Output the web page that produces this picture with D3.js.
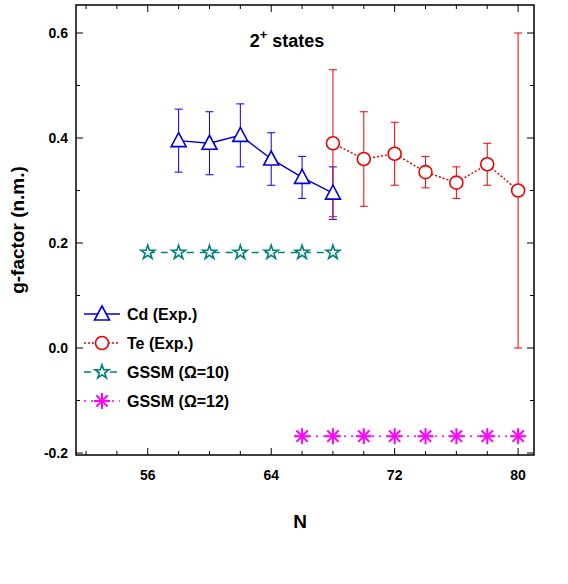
<!DOCTYPE html><html><head><meta charset="utf-8"><script src="https://d3js.org/d3.v7.min.js"></script>
<style>body{margin:0;background:#fff}text{font-family:Arial,"Liberation Sans",sans-serif;font-weight:bold}</style></head><body>
<svg id="c" width="568" height="584"></svg>
<script>
const cdN=[58,60,62,64,66,68], cdG=[0.395,0.39,0.405,0.36,0.325,0.295], cdE=[0.06,0.06,0.06,0.05,0.04,0.05];
const teN=[68,70,72,74,76,78,80], teG=[0.39,0.36,0.37,0.335,0.315,0.35,0.30], teE=[0.14,0.09,0.06,0.03,0.03,0.04,0.30];
const g10N=[56,58,60,62,64,66,68], g10G=[0.182,0.182,0.182,0.182,0.182,0.182,0.182];
const g12N=[66,68,70,72,74,76,78,80], g12G=[-0.168,-0.168,-0.168,-0.168,-0.168,-0.168,-0.168,-0.168];
const xTicks=[56,64,72,80], yTicks=[-0.2,0,0.2,0.4,0.6];
const svg=d3.select("#c");
const L=76,R=534,T=5,B=455;
const x=d3.scaleLinear().domain([51.35,81.03]).range([L,R]);
const y=d3.scaleLinear().domain([-0.2,0.6]).range([453,33]);
const ax=svg.append("g");
ax.append("rect").attr("x",L).attr("y",T).attr("width",R-L).attr("height",B-T).attr("fill","none").attr("stroke","#000").attr("stroke-width",1.5);
d3.range(52,82,2).forEach(v=>{const maj=xTicks.includes(v);const l=maj?7:4;
 ax.append("line").attr("x1",x(v)).attr("x2",x(v)).attr("y1",B).attr("y2",B-l).attr("stroke","#000");
 ax.append("line").attr("x1",x(v)).attr("x2",x(v)).attr("y1",T).attr("y2",T+l).attr("stroke","#000");
 if(maj)ax.append("text").attr("x",x(v)).attr("y",B+25).attr("text-anchor","middle").attr("font-size",14).text(v);});
d3.range(-0.2,0.65,0.1).forEach(v=>{v=+v.toFixed(1);const maj=yTicks.some(t=>Math.abs(t-v)<1e-6);const l=maj?7:4;
 ax.append("line").attr("x1",L).attr("x2",L+l).attr("y1",y(v)).attr("y2",y(v)).attr("stroke","#000");
 ax.append("line").attr("x1",R).attr("x2",R-l).attr("y1",y(v)).attr("y2",y(v)).attr("stroke","#000");
 if(maj)ax.append("text").attr("x",L-8).attr("y",y(v)+5).attr("text-anchor","end").attr("font-size",14).text(v.toFixed(1));});
svg.append("text").attr("x",300).attr("y",528).attr("text-anchor","middle").attr("font-size",19).text("N");
svg.append("text").attr("transform","translate(24,230) rotate(-90)").attr("text-anchor","middle").attr("font-size",19).text("g-factor (n.m.)");
const tt=svg.append("text").attr("x",287).attr("y",47).attr("text-anchor","middle").attr("font-size",18);
tt.append("tspan").text("2");tt.append("tspan").attr("dy",-8).attr("font-size",13).text("+");tt.append("tspan").attr("dy",8).text(" states");
function line(N,G,col,dash){svg.append("path").attr("d",d3.line().x((d,i)=>x(N[i])).y(d=>y(d))(G)).attr("fill","none").attr("stroke",col).attr("stroke-width",1.5).attr("stroke-dasharray",dash);}
function err(N,G,E,col){N.forEach((n,i)=>{const g=svg.append("g").attr("stroke",col).attr("stroke-width",1);
 g.append("line").attr("x1",x(n)).attr("x2",x(n)).attr("y1",y(G[i]-E[i])).attr("y2",y(G[i]+E[i]));
 [G[i]-E[i],G[i]+E[i]].forEach(v=>g.append("line").attr("x1",x(n)-4).attr("x2",x(n)+4).attr("y1",y(v)).attr("y2",y(v)));});}
function sym(type,cx,cy,col){const g=svg.append("g").attr("transform",`translate(${cx},${cy})`).attr("stroke",col).attr("stroke-width",1.6).attr("fill","#fff");
 if(type=="tri")g.append("path").attr("d","M0,-8L7.5,6L-7.5,6Z");
 if(type=="circ")g.append("circle").attr("r",6.5);
 if(type=="star")g.append("path").attr("d",d3.symbol(d3.symbolStar,60)());
 if(type=="ast")[0,45,90,135].forEach(a=>g.append("line").attr("x1",-8).attr("x2",8).attr("transform",`rotate(${a})`).attr("stroke-width",2));}
err(cdN,cdG,cdE,"#0000ee");err(teN,teG,teE,"#ee0000");
line(cdN,cdG,"#0000dd","");line(teN,teG,"#ee0000","2,2");line(g10N,g10G,"#008080","7,6");line(g12N,g12G,"#ff00ff","2,5");
cdN.forEach((n,i)=>sym("tri",x(n),y(cdG[i]),"#0000dd"));
teN.forEach((n,i)=>sym("circ",x(n),y(teG[i]),"#ee0000"));
g10N.forEach((n,i)=>sym("star",x(n),y(g10G[i]),"#008080"));
g12N.forEach((n,i)=>sym("ast",x(n),y(g12G[i]),"#ff00ff"));
const leg=[["Cd (Exp.)","tri","#0000dd",""],["Te (Exp.)","circ","#ee0000","2,2"],["GSSM (\u03A9=10)","star","#008080","7,6"],["GSSM (\u03A9=12)","ast","#ff00ff","2,5"]];
leg.forEach((d,i)=>{const yy=314+i*29;
 svg.append("line").attr("x1",84).attr("x2",120).attr("y1",yy).attr("y2",yy).attr("stroke",d[2]).attr("stroke-width",1.5).attr("stroke-dasharray",d[3]);
 sym(d[1],102,yy,d[2]);
 svg.append("text").attr("x",127).attr("y",yy+6).attr("font-size",16).text(d[0]);});
</script></body></html>
